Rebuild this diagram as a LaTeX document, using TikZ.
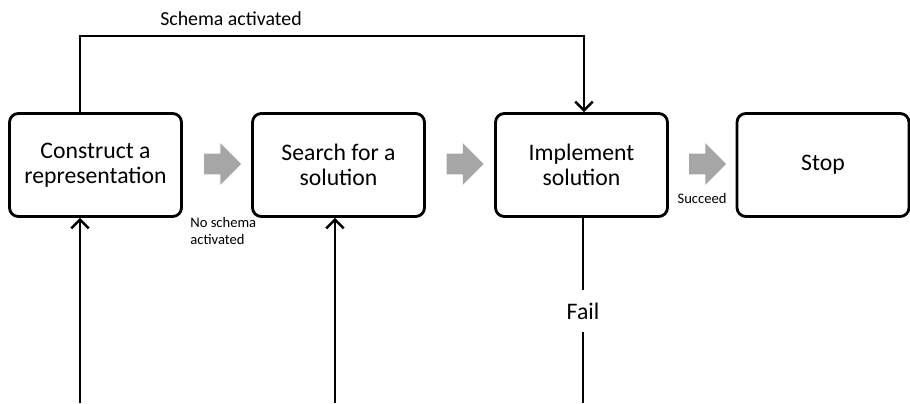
\documentclass[tikz,border=0pt]{standalone}
\usepackage{fontspec}
\setmainfont{Carlito}
\usetikzlibrary{positioning}
\usetikzlibrary{shapes.arrows}
\usetikzlibrary{arrows.meta}

\begin{document}
\begin{tikzpicture}[x=0.02cm, y=-0.02cm,
    stage/.style = {draw, line width=1.6pt, rounded corners=5pt,
                    minimum width=3.44cm, minimum height=2.06cm,
                    align=center, font=\fontsize{13.5}{14.5}\selectfont},
    flow/.style  = {line width=1.4pt, -{Straight Barb[length=5pt,width=10pt]}},
    plain/.style = {line width=1.4pt},
    step arrow/.style = {single arrow, fill=black!35, draw=none,
                    inner xsep=0pt, inner ysep=0.2cm,
                    single arrow head extend=0.21cm, minimum height=0.74cm},
    small/.style = {font=\fontsize{8.3}{10.2}\selectfont, inner sep=0pt}]
    \useasboundingbox (0,0) rectangle (910,403);

    % the four stages
    \node[stage] (construct) at ( 95.5,165) {Construct a\\representation};
    \node[stage] (search)    at (338.5,165) {Search for a\\solution};
    \node[stage] (implement) at (581.5,165) {Implement\\solution};
    \node[stage] (stop)      at (823.0,165) {Stop};

    % grey arrows between the stages
    \node[step arrow] (go1) at (217.5,164) {};
    \node[step arrow] (go2) at (460.0,164) {};
    \node[step arrow] (go3) at (702.5,164) {};

    \node[small, align=left, anchor=west] (noschema) at (190,231) {No schema\\activated};
    \node[small] (succeed) at (702,198) {Succeed};

    % schema loop over the top
    \coordinate (loopL) at (80,36);
    \coordinate (loopR) at (584,36);
    \node[font=\fontsize{11.3}{13}\selectfont] (schema) at (231,19) {Schema activated};
    \draw[flow] (construct.north -| loopL) -- (loopL) -- (loopR) -- (implement.north -| loopR);

    % inputs from below
    \coordinate (in1) at (80,403);
    \coordinate (in2) at (335,403);
    \draw[flow] (in1) -- (construct.south -| in1);
    \draw[flow] (in2) -- (search.south -| in2);

    % failure branch
    \node[font=\fontsize{13.5}{14.5}\selectfont, minimum height=0.84cm, inner sep=0pt] (fail) at (583,311) {Fail};
    \coordinate (out) at (583,403);
    \draw[plain] (implement.south -| fail) -- (fail.north);
    \draw[plain] (fail.south) -- (out);
\end{tikzpicture}
\end{document}
